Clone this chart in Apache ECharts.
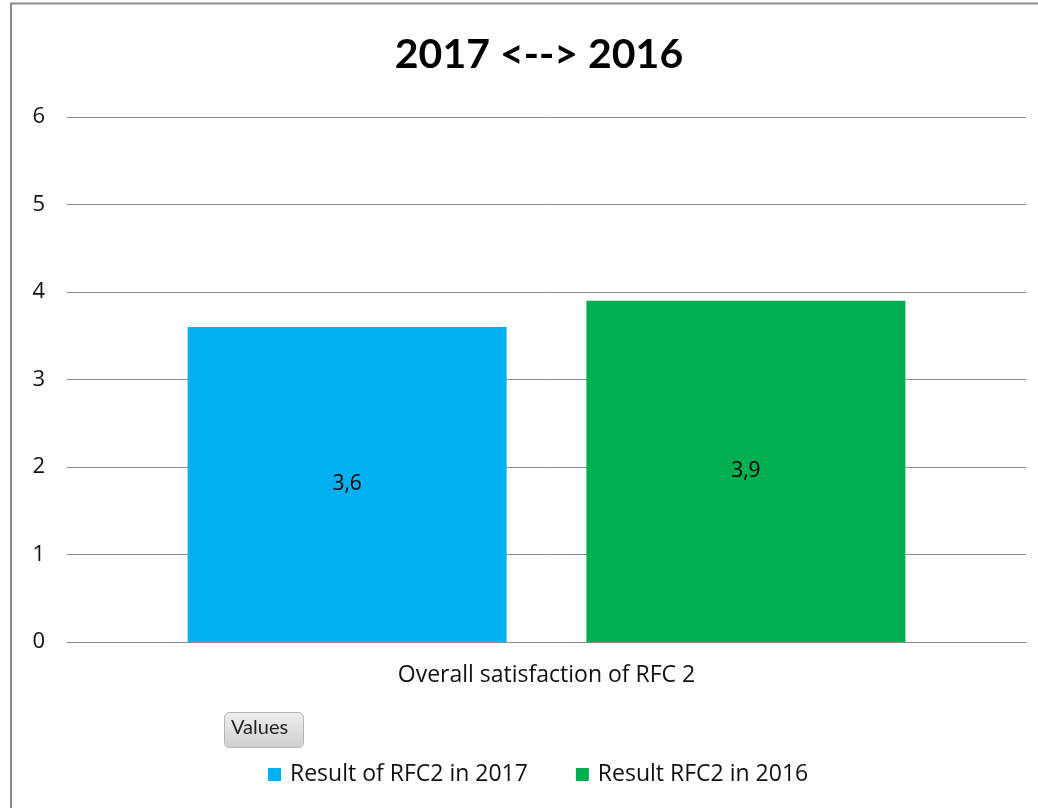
<!DOCTYPE html>
<html>
<head>
<meta charset="utf-8">
<script src="https://cdn.jsdelivr.net/npm/echarts@6/dist/echarts.min.js"></script>
<style>
  html, body { margin: 0; padding: 0; background: #fff; }
  #chart { width: 1038px; height: 808px; }
</style>
</head>
<body>
<div id="chart"></div>
<script>
// data
var categories = ["Overall satisfaction of RFC 2"];
var seriesNames = ["Result of RFC2 in 2017", "Result RFC2 in 2016"];
var values2017 = [3.6];
var values2016 = [3.9];
var seriesColors = ["#00b0f0", "#00b050"];

var titleFont = "Lato, 'Open Sans', sans-serif";
var font = "'Open Sans', sans-serif";

function labelFmt(p) {
    return String(p.value).replace(".", ",");
}

var chart = echarts.init(document.getElementById("chart"));
chart.setOption({
    animation: false,
    backgroundColor: "#fff",
    title: {
        text: "2017 <--> 2016",
        left: 534,
        textAlign: "center",
        top: 29,
        textStyle: { fontFamily: titleFont, fontWeight: "bold", fontSize: 41, color: "#000" }
    },
    legend: {
        left: 263,
        top: 758,
        itemWidth: 13,
        itemHeight: 13,
        itemGap: 48,
        icon: "rect",
        textStyle: { fontFamily: font, fontSize: 23, color: "#111", padding: [0, 0, 0, 4] },
        data: seriesNames
    },
    grid: { left: 67, right: 12, top: 117, bottom: 166 },
    xAxis: {
        type: "category",
        data: categories,
        axisTick: { show: false },
        axisLine: { lineStyle: { color: "#8c8c8c" } },
        axisLabel: { margin: 22, fontFamily: font, fontSize: 23, color: "#111" }
    },
    yAxis: {
        type: "value",
        min: 0,
        max: 6,
        interval: 1,
        axisLabel: { margin: 22, fontFamily: font, fontSize: 22, color: "#111" },
        splitLine: { lineStyle: { color: "#8c8c8c" } }
    },
    graphic: [
        {
            type: "polyline",
            shape: { points: [[11, 808], [11, 3.5], [1038, 3.5]] },
            style: { stroke: "#8a8a8a", lineWidth: 2, fill: null }
        },
        {
            type: "rect",
            left: 224,
            top: 712,
            shape: { width: 79, height: 35, r: 5 },
            style: {
                fill: new echarts.graphic.LinearGradient(0, 0, 0, 1, [
                    { offset: 0, color: "#efefef" },
                    { offset: 1, color: "#cfcfcf" }
                ]),
                stroke: "#b5b5b5",
                lineWidth: 1
            }
        },
        {
            type: "text",
            left: 231,
            top: 718,
            style: { text: "Values", font: "20px " + titleFont, fill: "#222" }
        }
    ],
    series: [
        {
            name: seriesNames[0],
            type: "bar",
            data: values2017,
            barWidth: 319,
            barGap: "25%",
            itemStyle: { color: seriesColors[0] },
            label: { show: true, position: "inside", formatter: labelFmt,
                fontFamily: font, fontSize: 21, color: "#000" }
        },
        {
            name: seriesNames[1],
            type: "bar",
            data: values2016,
            barWidth: 319,
            barGap: "25%",
            itemStyle: { color: seriesColors[1] },
            label: { show: true, position: "inside", formatter: labelFmt,
                fontFamily: font, fontSize: 21, color: "#000" }
        }
    ]
});
</script>
</body>
</html>
